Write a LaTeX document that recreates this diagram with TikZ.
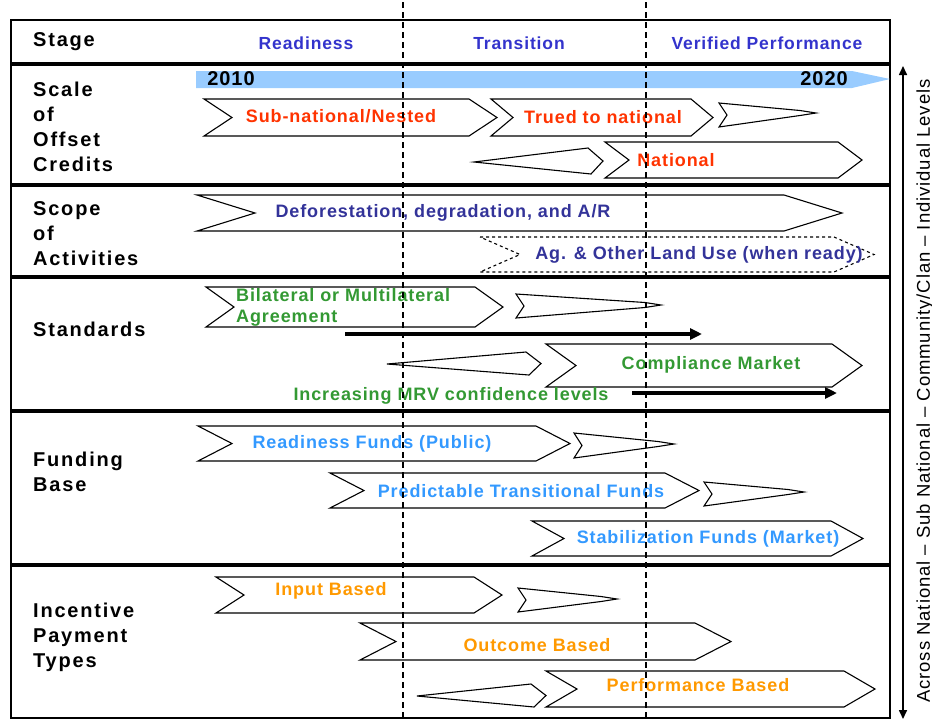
\documentclass[tikz,border=0pt]{standalone}
\usepackage{fontspec}
\setmainfont{Liberation Sans}[LetterSpace=5]
\newfontfamily\labelfont{Liberation Sans}[LetterSpace=9]
\usepackage{tikz}
\usetikzlibrary{arrows.meta, positioning}

\definecolor{stageblue}{HTML}{3333CC}
\definecolor{creditred}{HTML}{FF3300}
\definecolor{scopeblue}{HTML}{333399}
\definecolor{stdgreen}{HTML}{339933}
\definecolor{fundblue}{HTML}{3399FF}
\definecolor{payorange}{HTML}{FF9900}
\definecolor{barblue}{HTML}{99CCFF}

% x1, x2, ytop, ybot, depth
\newcommand{\chevron}[6][]{%
  \draw[chevline,#1] (#2,#4) -- (#3-#6,#4) -- (#3,{(#4+#5)/2}) -- (#3-#6,#5)
    -- (#2,#5) -- (#2+#6,{(#4+#5)/2}) -- cycle;}
% x1, ytop, ybot, xtip, ytip
\newcommand{\fadeout}[5]{%
  \draw[chevline] (#1,#2) -- (#4-16,#5-2.5) -- (#4,#5) -- (#4-16,#5+2.5)
    -- (#1,#3) -- (#1+8,{(#2+#3)/2}) -- cycle;}
% xtip, ytip, x2, ytop, ybot
\newcommand{\fadein}[5]{%
  \draw[chevline] (#1,#2) -- (#3-15,#4) -- (#3,{(#4+#5)/2}) -- (#3-12,#5) -- cycle;}

\begin{document}
\begin{tikzpicture}[x=1pt, y=-1pt,
    chevline/.style={line width=1.1pt, line join=miter},
    frame/.style={line width=2.5pt},
    rowsep/.style={line width=3.5pt},
    stageline/.style={line width=1.2pt, dash pattern=on 6pt off 4pt},
    label/.style={font=\labelfont\fontsize{20}{25}\selectfont\bfseries, align=left, anchor=west, inner sep=0pt},
    head/.style={font=\fontsize{17.5}{19}\selectfont\bfseries, text=stageblue, inner sep=0pt},
    txt/.style={font=\fontsize{18}{21}\selectfont\bfseries, inner sep=0pt},
    year/.style={font=\fontsize{20}{21}\selectfont\bfseries, inner sep=0pt},
    fatarrow/.style={line width=4pt, -{Triangle[length=12pt,width=11pt]}}]
  \useasboundingbox (0,0) rectangle (932,721);

  \draw[frame] (11,20) rectangle (890,718);
  \foreach \y in {64,185,277,411,565}
    \draw[rowsep] (11,\y) -- (890,\y);

  \node[label] (stage) at (33,42) {Stage};
  \node[head] (ready) at (306,43) {Readiness};
  \node[head] (trans) at (519,43) {Transition};
  \node[head] (verif) at (767,43) {Verified Performance};

  \node[label] (scale) at (33,127) {Scale\\of\\Offset\\Credits};
  \node[label] (scope) at (33,234) {Scope\\of\\Activities};
  \node[label] (stand) at (33,329) {Standards};
  \node[label] (fund) at (33,472) {Funding\\Base};
  \node[label] (incent) at (33,637) {Incentive\\Payment\\Types};

  \fill[barblue] (196,71) -- (852,71) -- (890,79) -- (852,88) -- (196,88) -- cycle;
  \node[year] (y2010) at (231,79) {2010};
  \node[year] (y2020) at (824,79) {2020};

  \chevron{204}{497}{99}{136}{28}
  \chevron{491}{713}{99}{136}{22}
  \fadeout{719}{103}{127}{816}{113}
  \fadein{474}{162}{603}{148}{174}
  \chevron{605}{862}{142}{178}{24}
  \node[txt, text=creditred] (subnat) at (341,116) {Sub-national/Nested};
  \node[txt, text=creditred] (trued) at (603,117) {Trued to national};
  \node[txt, text=creditred] (natl) at (676,160) {National};

  \chevron{197}{842}{195}{231}{58}
  \chevron[dashed]{480}{874}{237}{272}{40}
  \node[txt, text=scopeblue] (defor) at (443,213) {Deforestation, degradation, and A/R};
  \node[txt, text=scopeblue] (aglu) at (699,255) {Ag. \& Other Land Use (when ready)};

  \chevron{206}{503}{287}{327}{28}
  \fadeout{516}{294}{318}{661}{305}
  \fadein{387}{364}{541}{352}{375}
  \chevron{546}{862}{344}{387}{30}
  \node[txt, text=stdgreen, align=left, anchor=west] (bilat) at (236,307) {Bilateral or Multilateral\\Agreement};
  \node[txt, text=stdgreen] (compl) at (711,365) {Compliance Market};
  \node[txt, text=stdgreen] (mrv) at (451,396) {Increasing MRV confidence levels};
  \coordinate (agrA) at (345,334);
  \coordinate (agrB) at (702,334);
  \coordinate (mrvA) at (632,393);
  \coordinate (mrvB) at (837,393);
  \draw[fatarrow] (agrA) -- (agrB);
  \draw[fatarrow] (mrvA) -- (mrvB);

  \chevron{198}{570}{426}{461}{34}
  \fadeout{574}{433}{458}{674}{444}
  \chevron{330}{699}{473}{508}{34}
  \fadeout{704}{482}{506}{804}{492}
  \chevron{532}{863}{521}{556}{32}
  \node[txt, text=fundblue] (rfund) at (372,444) {Readiness Funds (Public)};
  \node[txt, text=fundblue] (tfund) at (521,491) {Predictable Transitional Funds};
  \node[txt, text=fundblue] (sfund) at (708,539) {Stabilization Funds (Market)};

  \chevron{216}{502}{577}{613}{28}
  \fadeout{518}{588}{612}{617}{599}
  \chevron{360}{731}{623}{660}{36}
  \fadein{417}{696}{546}{684}{707}
  \chevron{546}{875}{671}{707}{31}
  \node[txt, text=payorange] (input) at (331,591) {Input Based};
  \node[txt, text=payorange] (outc) at (537,645) {Outcome Based};
  \node[txt, text=payorange] (perf) at (698,685) {Performance Based};

  \foreach \x in {403,646}
    \draw[stageline] (\x,2) -- (\x,721);

  \coordinate (levTop) at (903,66);
  \coordinate (levBot) at (903,719);
  \draw[line width=1.6pt, {Triangle[length=9pt,width=8pt]}-{Triangle[length=9pt,width=8pt]}] (levTop) -- (levBot);
  \node[font=\fontsize{18.5}{20}\selectfont, rotate=90, inner sep=0pt] (levels) at (925,391)
    {Across National -- Sub National -- Community/Clan -- Individual Levels};
\end{tikzpicture}
\end{document}
